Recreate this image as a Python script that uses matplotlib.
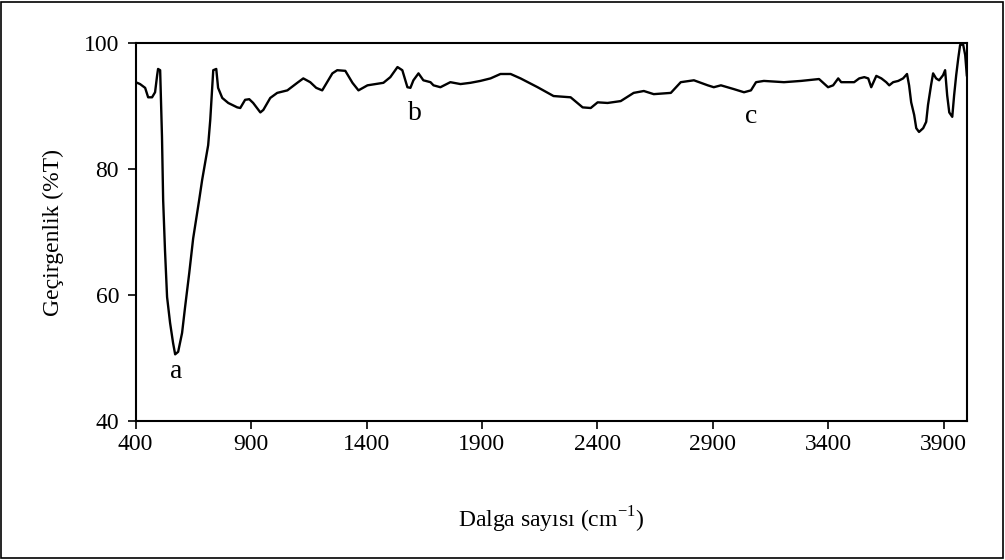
import numpy as np
import matplotlib
matplotlib.use('Agg')
import matplotlib.pyplot as plt
from matplotlib import rcParams
from matplotlib.patches import Rectangle

rcParams['font.family'] = 'serif'
rcParams['font.serif'] = ['Liberation Serif', 'DejaVu Serif']
rcParams['mathtext.fontset'] = 'custom'
rcParams['mathtext.rm'] = 'Liberation Serif'

# FTIR spectrum
wavenumber = [400, 419, 441, 454, 471, 484, 493, 497, 506, 514, 519, 527, 536, 549,
              562, 571, 584, 601, 614, 632, 649, 666, 675, 688, 701, 714, 723, 731,
              736, 749, 757, 775, 801, 840, 853, 874, 892, 909, 940, 953, 983, 1013,
              1057, 1100, 1126, 1156, 1182, 1208, 1252, 1273, 1308, 1339, 1365, 1404,
              1473, 1503, 1534, 1555, 1577, 1590, 1603, 1625, 1646, 1677, 1690, 1720,
              1763, 1807, 1850, 1893, 1937, 1980, 2024, 2067, 2141, 2210, 2284, 2336,
              2371, 2401, 2444, 2501, 2557, 2601, 2644, 2718, 2761, 2818, 2878, 2904,
              2935, 2991, 3035, 3065, 3087, 3121, 3208, 3282, 3360, 3399, 3421, 3443,
              3456, 3512, 3534, 3556, 3573, 3586, 3608, 3630, 3651, 3664, 3681, 3703,
              3724, 3741, 3750, 3759, 3772, 3781, 3793, 3811, 3824, 3832, 3845, 3854,
              3867, 3880, 3897, 3906, 3915, 3924, 3937, 3945, 3954, 3963, 3971, 3984,
              3993, 4000]
transmittance = [93.8, 93.5, 92.9, 91.4, 91.4, 92.2, 94.9, 95.9, 95.7, 85.1, 75.1, 67.1,
                 59.7, 55.6, 52.4, 50.6, 51.0, 54.0, 58.1, 63.5, 69.0, 73.0, 75.1, 78.3,
                 81.0, 83.8, 87.8, 92.5, 95.7, 95.9, 92.9, 91.3, 90.5, 89.8, 89.7, 91.0,
                 91.1, 90.5, 89.0, 89.4, 91.3, 92.1, 92.5, 93.7, 94.4, 93.8, 92.9, 92.5,
                 95.2, 95.7, 95.6, 93.7, 92.5, 93.3, 93.7, 94.6, 96.2, 95.7, 93.0, 92.9,
                 94.1, 95.2, 94.1, 93.8, 93.3, 93.0, 93.8, 93.5, 93.7, 94.0, 94.4, 95.1,
                 95.1, 94.4, 93.0, 91.6, 91.4, 89.8, 89.7, 90.6, 90.5, 90.8, 92.1, 92.4,
                 91.9, 92.1, 93.8, 94.1, 93.3, 93.0, 93.3, 92.7, 92.2, 92.5, 93.8, 94.0,
                 93.8, 94.0, 94.3, 93.0, 93.3, 94.4, 93.8, 93.8, 94.4, 94.6, 94.4, 93.0,
                 94.8, 94.4, 93.8, 93.3, 93.8, 94.0, 94.4, 95.1, 93.3, 90.6, 88.6, 86.5,
                 85.9, 86.5, 87.5, 90.2, 93.3, 95.2, 94.4, 94.1, 94.9, 95.7, 91.7, 89.0,
                 88.3, 91.7, 94.9, 97.6, 99.7, 99.8, 98.1, 94.9]

peak_labels = ['a', 'b', 'c']
peak_x = [575, 1609, 3065]
peak_y = [47.8, 88.9, 88.3]


def plot():
    fig = plt.figure(figsize=(10.05, 5.6), dpi=100)
    ax = fig.add_axes([0.135, 0.248, 0.827, 0.675])
    ax.plot(wavenumber, transmittance, color='black', linewidth=1.7)

    ax.set_xlim(400, 4000)
    ax.set_ylim(40, 100)
    ax.set_xticks(np.arange(400, 4000, 500))
    ax.set_yticks([40, 60, 80, 100])
    ax.tick_params(direction='out', length=6, width=1.2, labelsize=17)
    ax.tick_params(axis='x', pad=3)
    ax.tick_params(axis='y', pad=6)
    for s in ax.spines.values():
        s.set_linewidth(1.5)

    for lab, x, y in zip(peak_labels, peak_x, peak_y):
        ax.text(x, y, lab, fontsize=20, ha='center', va='center')

    ax.set_xlabel('Dalga sayısı (cm$^{-1}$)', fontsize=17, labelpad=36)
    ax.set_ylabel('Geçirgenlik (%T)', fontsize=17, labelpad=14)

    fig.patches.append(Rectangle((0.001, 0.003), 0.997, 0.994, transform=fig.transFigure,
                                 fill=False, edgecolor='black', linewidth=1.2))
    fig.savefig('out.png', dpi=100)


if __name__ == '__main__':
    plot()
